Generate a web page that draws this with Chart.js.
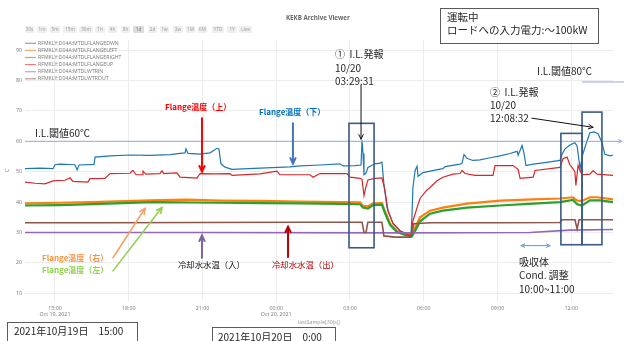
<!DOCTYPE html>
<html><head><meta charset="utf-8">
<script src="https://cdn.jsdelivr.net/npm/chart.js@4"></script>
<style>
body{margin:0;background:#fff;}
#wrap{position:relative;width:624px;height:341px;overflow:hidden;font-family:"Noto Sans CJK JP","Noto Sans",sans-serif;}
canvas{position:absolute;left:0;top:0;}
.t{position:absolute;white-space:pre;line-height:1;color:#262626;}
.btn{position:absolute;top:26px;height:7px;background:#efefef;color:#9a9a9a;font:4.6px "Open Sans",sans-serif;line-height:7px;text-align:center;border-radius:1px;}
.box{position:absolute;border:1px solid #5a5a5a;background:#fff;}
</style></head>
<body>
<div id="wrap">
<canvas id="c" width="624" height="341"></canvas>
</div>
<script>
// ---- data (hours from 2021-10-19 00:00, temperature in C) ----
const seriesNames = ["RFMKLY:D04A:MTDLFLANGEDWN","RFMKLY:D04A:MTDLFLANGELEFT","RFMKLY:D04A:MTDLFLANGERIGHT","RFMKLY:D04A:MTDLFLANGEUP","RFMKLY:D04A:MTDLWTRIN","RFMKLY:D04A:MTDLWTROUT"];
const xTicks = [15,18,21,24,27,30,33,36];
const yTicks = [10,20,30,40,50,60,70,80,90];

const tDown = [13.78,14.39,14.92,15.00,15.20,15.81,15.90,15.98,16.59,16.63,17.24,18.05,18.87,19.68,20.09,20.29,20.33,20.41,20.90,21.31,21.59,21.67,21.75,21.92,22.20,23.34,24.56,24.97,25.78,26.59,26.72,27.20,27.45,27.49,27.53,27.57,27.65,27.73,28.02,28.22,28.30,28.38,28.51,28.75,29.04,29.32,29.48,29.52,29.56,29.65,29.73,29.77,29.97,30.46,30.78,30.87,31.48,31.56,31.64,31.76,32.00,32.29,32.70,33.10,33.51,33.80,33.84,34.00,34.08,34.16,34.45,34.93,35.54,35.63,35.75,35.95,36.15,36.24,36.36,36.48,36.64,36.76,36.93,37.09,37.25,37.37,37.58,37.70];
const vDown = [51.0,51.2,51.0,52.3,52.5,52.3,50.6,52.2,52.4,54.8,55.2,55.5,55.4,55.6,56.0,56.2,57.5,56.0,55.8,56.2,57.7,57.5,52.6,51.5,50.8,51.2,51.6,51.9,52.2,52.6,51.9,52.0,52.2,60.3,56.0,49.0,49.5,51.4,52.6,52.8,53.2,46.0,38.0,33.0,30.6,29.6,29.3,35.0,44.8,50.4,51.8,48.5,49.7,50.5,51.0,51.7,52.5,52.8,55.6,54.4,53.7,53.9,54.6,55.2,56.0,56.7,55.4,58.6,56.0,52.0,52.5,53.0,53.7,55.8,57.5,58.8,59.5,58.5,51.0,56.0,60.0,62.8,63.1,62.5,59.6,55.7,55.2,55.5];

const tLeft = [13.78,15.20,16.83,18.87,20.37,21.71,23.34,24.97,26.59,27.41,27.53,27.73,27.94,28.30,28.42,28.63,28.91,29.24,29.52,29.65,29.85,30.26,30.78,31.76,33.10,34.45,35.54,36.07,36.24,36.44,36.76,37.05,37.70];
const vLeft = [39.6,39.8,40.1,40.6,40.8,40.5,40.4,40.2,40.0,39.9,38.8,38.6,39.6,39.7,37.0,33.0,30.5,29.5,29.2,31.6,35.0,37.2,38.2,39.5,40.5,40.9,41.2,41.6,40.5,40.4,41.6,41.6,40.9];

const tRight = [13.78,15.20,16.83,18.99,21.71,23.34,24.97,26.59,27.41,27.53,27.73,27.94,28.30,28.42,28.63,28.91,29.24,29.52,29.65,29.85,30.26,30.78,31.76,33.10,34.45,35.54,36.07,36.24,36.44,36.76,37.17,37.70];
const vRight = [38.9,39.0,39.4,40.0,39.8,39.7,39.6,39.4,39.3,38.2,37.9,39.0,39.2,36.5,32.5,30.2,29.2,28.8,30.5,33.7,36.2,37.2,38.2,38.9,39.5,40.0,40.7,39.3,38.9,40.6,40.6,40.0];

const tUp = [13.78,14.19,14.59,14.92,15.41,15.61,15.73,16.34,16.42,17.03,17.24,18.05,18.17,18.30,18.54,18.58,18.70,19.27,19.35,19.43,19.96,20.09,20.78,20.90,21.51,22.12,22.20,23.34,24.03,24.15,25.37,25.50,25.78,26.88,27.00,27.41,27.49,27.57,27.65,27.73,28.02,28.30,28.42,28.55,28.75,29.04,29.32,29.48,29.56,29.73,29.85,30.13,30.26,30.54,30.78,31.19,31.48,31.56,31.68,32.09,32.82,32.90,33.63,33.84,33.92,34.45,34.53,35.54,35.67,35.83,35.95,36.07,36.15,36.19,36.28,36.44,36.76,36.89,37.05,37.70];
const vUp = [46.6,46.2,46.0,47.0,47.2,48.0,46.8,46.6,47.7,47.8,49.4,49.5,50.4,49.0,49.0,50.2,49.2,49.4,50.3,49.4,49.6,48.2,47.9,49.4,49.3,49.4,48.8,49.3,50.2,49.0,49.0,48.2,49.4,49.4,48.2,47.8,47.5,42.2,45.0,47.3,47.8,48.0,44.0,37.0,33.0,30.5,29.3,29.0,33.8,38.2,41.2,44.0,44.8,47.0,48.2,49.2,49.4,50.4,49.4,48.8,48.8,52.0,52.0,50.8,47.8,48.2,50.4,51.4,54.3,54.8,52.2,51.0,50.0,45.5,52.0,49.0,49.2,50.4,49.2,48.8];

const tWtrIn = [13.78,20.90,29.04,34.32,35.95,37.70];
const vWtrIn = [30.0,30.0,29.9,30.0,30.8,31.0];

const tWtrOut = [13.78,16.83,20.90,24.97,27.49,27.57,27.65,27.73,28.30,28.38,28.83,29.48,29.60,30.26,33.10,35.54,35.63,36.15,36.24,36.32,37.70];
const vWtrOut = [33.2,33.2,33.3,33.4,33.4,30.0,30.0,33.4,33.4,28.9,28.5,28.5,32.9,33.2,33.2,33.3,34.2,34.2,31.2,34.2,34.2];

// ---- annotation geometry in data units (hours, C) ----
const annoRects = [[26.96,27.98,65.9,25.0],[35.58,36.44,62.6,26.0],[36.44,37.25,69.6,26.0]];
const annoArrows = [
  {a:[27.45,78.5], b:[27.45,60.7], c:'#111', w:1, h:5},
  {a:[34.40,67.6], b:[36.89,64.6], c:'#111', w:1, h:5},
  {a:[20.98,67.6], b:[20.98,50.1], c:'#ff0000', w:2, h:6},
  {a:[24.68,65.9], b:[24.68,52.7], c:'#4472c4', w:2, h:6},
  {a:[17.36,21.7], b:[18.66,37.9], c:'#f4a261', w:1.6, h:6},
  {a:[17.36,17.4], b:[19.35,38.2], c:'#92d050', w:1.6, h:6},
  {a:[20.98,21.7], b:[20.98,29.0], c:'#8064a2', w:2, h:6},
  {a:[24.48,22.0], b:[24.48,31.9], c:'#c00000', w:2, h:6},
  {a:[34.55,25.7], b:[33.96,25.7], c:'#5b9bd5', w:1, h:4},
  {a:[34.55,25.7], b:[35.14,25.7], c:'#5b9bd5', w:1, h:4}
];

function pts(t, v){ return t.map((x,i)=>({x:x, y:v[i]})); }
const colors = ['#1f77b4','#ff7f0e','#2ca02c','#d62728','#9467bd','#8c564b'];
const widths = [1.2,2.2,2.2,1.2,1.6,1.6];
const sets = [pts(tDown,vDown),pts(tLeft,vLeft),pts(tRight,vRight),pts(tUp,vUp),pts(tWtrIn,vWtrIn),pts(tWtrOut,vWtrOut)];

function head(ctx,x1,y1,x2,y2,len){
  const a=Math.atan2(y2-y1,x2-x1), s=0.45;
  ctx.beginPath();
  ctx.moveTo(x2-len*Math.cos(a-s), y2-len*Math.sin(a-s));
  ctx.lineTo(x2,y2);
  ctx.lineTo(x2-len*Math.cos(a+s), y2-len*Math.sin(a+s));
  ctx.stroke();
}

const annoPlugin = {
  id:'anno',
  afterDatasetsDraw(chart){
    const ctx=chart.ctx, xs=chart.scales.x, ys=chart.scales.y, ca=chart.chartArea;
    ctx.save();
    ctx.strokeStyle='#8faadc'; ctx.lineWidth=1;
    let y60=ys.getPixelForValue(60);
    ctx.beginPath(); ctx.moveTo(ca.left,y60); ctx.lineTo(ca.right+9,y60); ctx.stroke();
    head(ctx,ca.left,y60,ca.right+9,y60,4);
    let y80=ys.getPixelForValue(79.5);
    ctx.beginPath(); ctx.moveTo(xs.getPixelForValue(36.44),y80); ctx.lineTo(624,y80); ctx.stroke();
    ctx.strokeStyle='#3b5b86'; ctx.lineWidth=1.6;
    annoRects.forEach(r=>{
      const x1=xs.getPixelForValue(r[0]), x2=xs.getPixelForValue(r[1]);
      const y1=ys.getPixelForValue(r[2]), y2=ys.getPixelForValue(r[3]);
      ctx.strokeRect(x1,y1,x2-x1,y2-y1);
    });
    annoArrows.forEach(o=>{
      const x1=xs.getPixelForValue(o.a[0]), y1=ys.getPixelForValue(o.a[1]);
      const x2=xs.getPixelForValue(o.b[0]), y2=ys.getPixelForValue(o.b[1]);
      ctx.strokeStyle=o.c; ctx.lineWidth=o.w; ctx.lineCap='round';
      ctx.beginPath(); ctx.moveTo(x1,y1); ctx.lineTo(x2,y2); ctx.stroke();
      head(ctx,x1,y1,x2,y2,o.h);
    });
    ctx.restore();
  },
  afterDraw(chart){
    const ctx=chart.ctx;
    ctx.save();
    ctx.font='5.2px "Open Sans", sans-serif';
    ctx.textBaseline='middle';
    chart.data.datasets.forEach((d,i)=>{
      const y=43.3+i*7.1;
      ctx.globalAlpha=0.6;
      ctx.strokeStyle=d.borderColor; ctx.lineWidth=1.2;
      ctx.beginPath(); ctx.moveTo(25,y); ctx.lineTo(36,y); ctx.stroke();
      ctx.globalAlpha=1;
      ctx.fillStyle='#777';
      ctx.fillText(d.label,38,y);
    });
    ctx.restore();
  }
};

new Chart(document.getElementById('c'),{
  type:'line',
  data:{datasets: sets.map((s,i)=>({label:seriesNames[i], data:s, borderColor:colors[i], backgroundColor:colors[i], borderWidth:widths[i], pointRadius:0, tension:0, fill:false, order:6-i}))},
  options:{
    responsive:false, animation:false,
    layout:{padding:{top:40,right:11,left:0,bottom:0}},
    plugins:{legend:{display:false}, tooltip:{enabled:false}},
    scales:{
      x:{type:'linear', min:13.78, max:37.70,
        afterBuildTicks:s=>{s.ticks=xTicks.map(v=>({value:v}));},
        afterFit:s=>{s.height=40;},
        grid:{color:'#ececec', drawTicks:false}, border:{display:false},
        ticks:{padding:4, color:'#777', font:{size:5.3, family:'"Open Sans", sans-serif', lineHeight:1.15}, maxRotation:0, autoSkip:false,
          callback:(v)=>{ const h=v%24; const s=(h<10?'0':'')+h+':00'; if(v===15) return [s,'Oct 19, 2021']; if(v===24) return [s,'Oct 20, 2021']; return s; }},
        title:{display:true, text:'lastSample[30(s)]', color:'#999', font:{size:5.3, family:'"Open Sans", sans-serif'}, padding:{top:0,bottom:15}}
      },
      y:{type:'linear', min:7.5, max:93.3,
        afterBuildTicks:s=>{s.ticks=yTicks.map(v=>({value:v}));},
        afterFit:s=>{s.width=25;},
        grid:{color:'#ececec', drawTicks:false}, border:{display:false},
        ticks:{padding:3, color:'#777', font:{size:5.3, family:'"Open Sans", sans-serif'}},
        title:{display:true, text:'C', color:'#888', font:{size:5.5, family:'"Open Sans", sans-serif'}, padding:{top:4,bottom:0}}
      }
    }
  },
  plugins:[annoPlugin]
});

const wrap=document.getElementById('wrap');
function txt(s,left,cy,size,opts){
  opts=opts||{};
  const d=document.createElement('div'); d.className='t'; d.textContent=s;
  d.style.left=left+'px'; d.style.top=(cy-size/2)+'px'; d.style.fontSize=size+'px';
  if(opts.c) d.style.color=opts.c; if(opts.b) d.style.fontWeight='bold'; if(opts.f) d.style.fontFamily=opts.f;
  wrap.appendChild(d); return d;
}
function box(l,t,w,h){const d=document.createElement('div');d.className='box';d.style.left=l+'px';d.style.top=t+'px';d.style.width=w+'px';d.style.height=h+'px';wrap.appendChild(d);}
txt('KEKB Archive Viewer',286,18,6.2,{c:'#666',b:1,f:'"Open Sans",sans-serif'});
const btns=[['30s',25,9],['1m',37,10],['5m',50,10],['15m',63,14],['30m',79,14],['1h',95,10],['4h',108,9],['8h',121,9],['1d',133,11],['2d',148,9],['1w',160,9],['2w',173,10],['1M',186,9],['6M',198,9],['YTD',212,12],['1Y',227,10],['Live',239,13]];
btns.forEach(b=>{const d=document.createElement('div');d.className='btn';d.textContent=b[0];d.style.left=b[1]+'px';d.style.width=b[2]+'px';if(b[0]==='1d'){d.style.background='#dcdcdc';d.style.color='#777';}wrap.appendChild(d);});

box(440,8,157,34);
txt('運転中',447,17,10.5);
txt('ロードへの入力電力:～100kW',447,30,10.5);
txt('I.L.閾値60℃',35,133,10);
txt('I.L.閾値80℃',537,71,10);
txt('①  I.L.発報',335,54,10);
txt('10/20',335,68,10);
txt('03:29:31',335,81,10);
txt('②  I.L.発報',490,92,10);
txt('10/20',490,105,10);
txt('12:08:32',490,118,10);
txt('Flange温度（上）',165,107,8,{c:'#ff0000',b:1});
txt('Flange温度（下）',259,112,8,{c:'#0070c0',b:1});
txt('Flange温度（右）',42,258,8,{c:'#f79646',b:1});
txt('Flange温度（左）',42,270,8,{c:'#92d050',b:1});
txt('冷却水水温（入）',178,264,8.4,{c:'#111'});
txt('冷却水水温（出）',272,264,8.4,{c:'#c00000'});
txt('吸収体',519,262,10);
txt('Cond. 調整',519,275,10);
txt('10:00~11:00',519,289,10);
box(7,322,129,30);
txt('2021年10月19日　15:00',14,331,10);
box(212,327,122,30);
txt('2021年10月20日　0:00',218,337,10);
</script>
</body></html>
